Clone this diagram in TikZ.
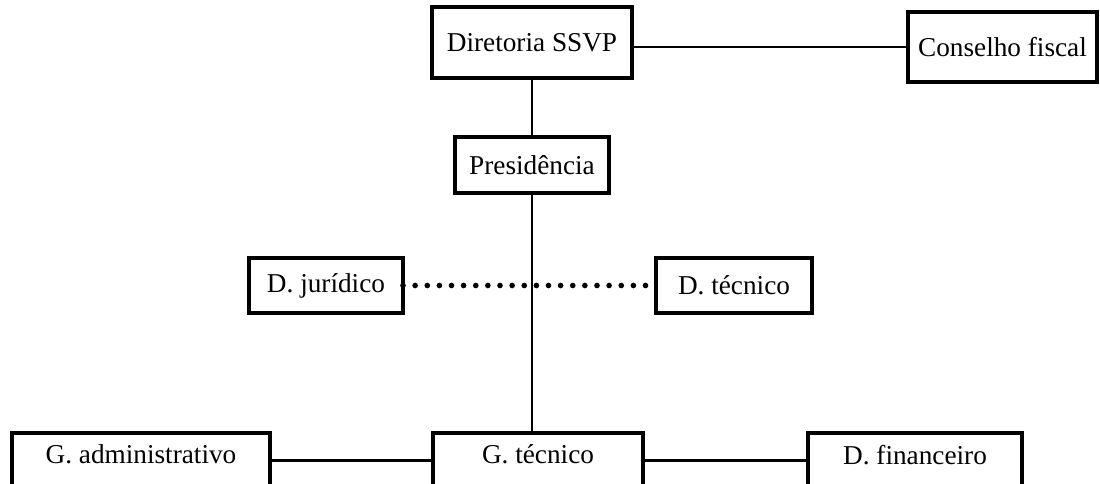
\documentclass[tikz,border=0pt]{standalone}
\usepackage{fontspec}
\setmainfont{Liberation Serif}

\begin{document}
\begin{tikzpicture}[every node/.style={draw, line width=2.1pt, inner sep=0pt, outer sep=0pt, font=\fontsize{15.5}{18}\selectfont},
  link/.style={line width=1.3pt},
  dots/.style={line width=3.2pt, line cap=round, dash pattern=on 0pt off 6.9pt},
  low/.style={text depth=0.24cm}]
\fill[white] (0,0) rectangle (22,-9.68);
\useasboundingbox (0,0) rectangle (22,-9.68);

\node[line width=2.8pt, minimum width=4cm, minimum height=1.42cm] (dir) at (10.64,-0.85) {Diretoria SSVP};
\node[minimum width=3.78cm, minimum height=1.4cm] (cons) at (20.05,-0.94) {Conselho fiscal};
\node[minimum width=3.08cm, minimum height=1.12cm] (pres) at (10.64,-3.3) {Presidência};

\node[minimum width=3.08cm, minimum height=1.1cm] (jur) at (6.52,-5.71) {D. jurídico};
\node[minimum width=3.12cm, minimum height=1.1cm] (tec) at (14.68,-5.71) {D. técnico};

\node[low, minimum width=5.16cm, minimum height=1.1cm] (gadm) at (2.82,-9.21) {G. administrativo};
\node[low, minimum width=4.2cm, minimum height=1.1cm] (gtec) at (10.76,-9.21) {G. técnico};
\node[low, minimum width=4.28cm, minimum height=1.1cm] (fin) at (18.3,-9.21) {D. financeiro};

\draw[link] (cons.west -| dir.east) -- (cons.west);
\draw[link] (dir.south) -- (pres.north);
\draw[link] (pres.south) -- (pres.south |- gtec.north);
\draw[dots] (jur.east) -- (tec.west);
\draw[link] (gadm.east) -- (gtec.west);
\draw[link] (gtec.east) -- (fin.west);
\end{tikzpicture}
\end{document}
